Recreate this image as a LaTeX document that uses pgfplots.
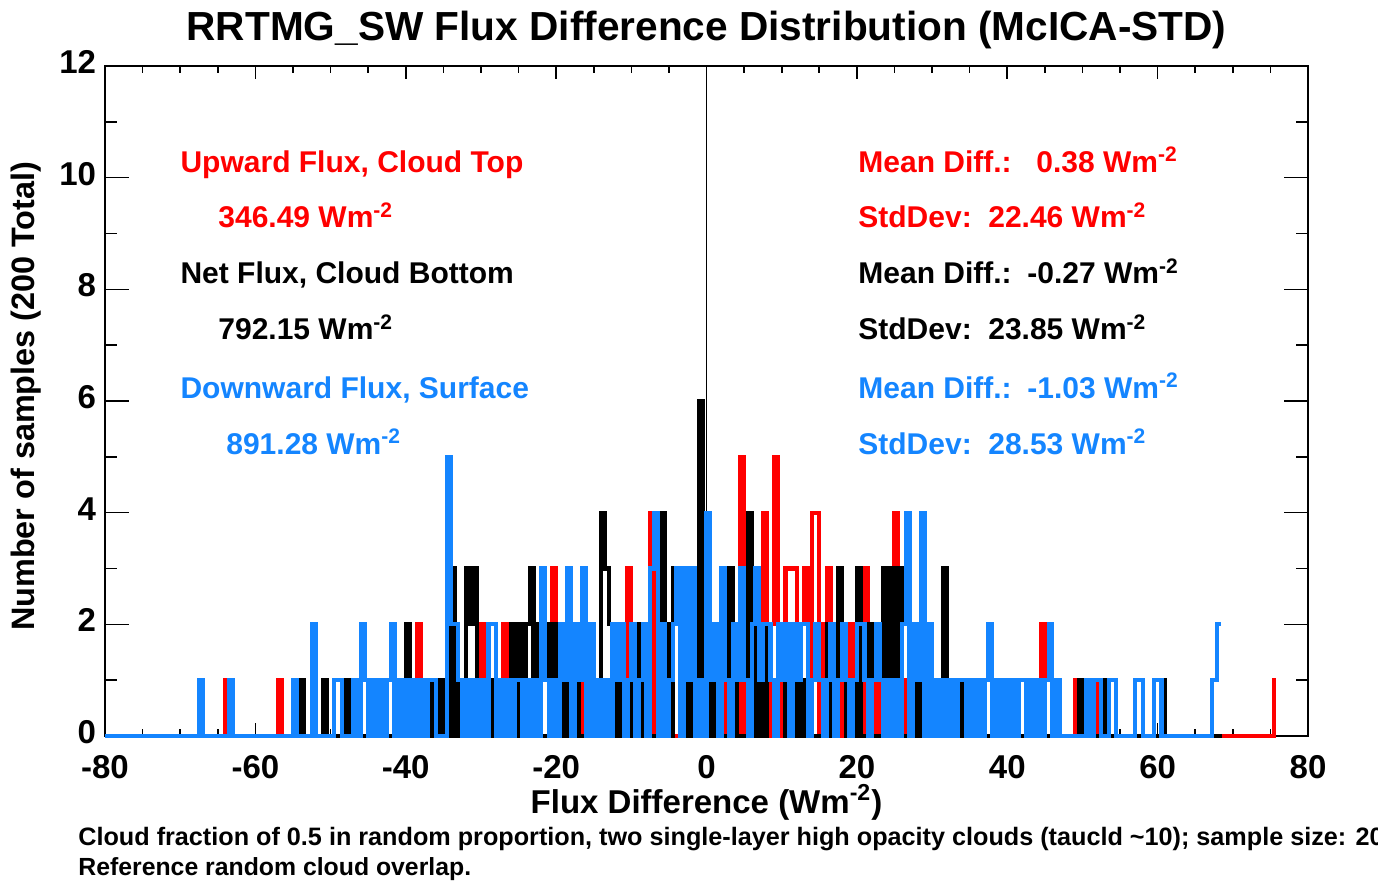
\documentclass[border=0pt]{standalone}
\usepackage{pgfplots}
\pgfplotsset{compat=1.18}
\usepackage{fontspec}
\setmainfont{Liberation Sans}
\definecolor{idlblue}{RGB}{20,133,255}
\definecolor{idlred}{RGB}{255,0,0}
\begin{document}
\begin{tikzpicture}
\path[use as bounding box] (0,0) rectangle (689bp,440.5bp);
\begin{axis}[
  at={(52.5bp,72.5bp)}, anchor=south west,
  scale only axis, width=601.5bp, height=335bp,
  xmin=-80, xmax=80, ymin=0, ymax=12,
  xtick={-80,-60,...,80}, ytick={0,2,...,12},
  minor x tick num=3, minor y tick num=1,
  tick align=inside,
  clip=false,
  axis line style={line width=1bp},
  every tick/.style={black, line width=0.8bp},
  xtick style={/pgfplots/major tick length=6.7bp,/pgfplots/minor tick length=3.4bp},
  ytick style={/pgfplots/major tick length=12bp,/pgfplots/minor tick length=6bp},
  tick label style={font=\fontsize{16.5bp}{18bp}\selectfont\bfseries},
  /pgf/number format/assume math mode=true,
  xticklabel style={yshift=-6bp},
  yticklabel style={xshift=-1bp, yshift=2bp},
  title={RRTMG\_SW Flux Difference Distribution (McICA-STD)},
  title style={font=\fontsize{20.3bp}{22bp}\selectfont\bfseries, at={(axis description cs:0.5,1.0209)}, anchor=base},
  xlabel={Flux Difference (Wm\textsuperscript{-2})},
  xlabel style={font=\fontsize{16.5bp}{18bp}\selectfont\bfseries, at={(axis description cs:0.5,-0.115)}, anchor=base},
  ylabel={Number of samples (200 Total)},
  ylabel style={font=\fontsize{16.2bp}{18bp}\selectfont\bfseries, at={(axis description cs:-0.0582,0.507)}, anchor=base, rotate=0},
]
\draw[black, line width=0.5bp] (axis cs:0,0) -- (axis cs:0,12);
% red
\addplot[idlred, line width=2.1bp, const plot mark left, no marks] coordinates {
(-80,0) (-64,1) (-63.5,0) (-57,1) (-56.5,0) (-45,1) (-44.5,0) (-38.5,2) (-38,0) (-36,1) (-35.5,0) (-33.5,1) (-33,0) (-31,1) (-30.5,0) (-30,2) (-29.5,1) (-29,0) (-28,1) (-27.5,0) (-27,2) (-26.5,0) (-26,1) (-25.5,0) (-24.5,1) (-24,0) (-22.5,1) (-22,0) (-21,2) (-20.5,3) (-20,0) (-19.5,1) (-19,0) (-18,2) (-17.5,0) (-17,1) (-16.5,0) (-15,1) (-14.5,0) (-13,1) (-12.5,0) (-12,2) (-11.5,0) (-11,1) (-10.5,3) (-10,0) (-9.5,1) (-9,2) (-8.5,0) (-8,1) (-7.5,4) (-7,0) (-6,3) (-5.5,0) (-5,2) (-4.5,0) (-3.5,1) (-3,0) (-2.5,2) (-2,0) (-1.5,3) (-1,0) (-0.5,1) (0,0) (0.5,2) (1,0) (1.5,1) (2,0) (2.5,2) (3,0) (3.5,1) (4,0) (4.5,5) (5,0) (5.5,2) (6,1) (6.5,0) (7,1) (7.5,4) (8,0) (8.5,2) (9,5) (9.5,0) (10,1) (10.5,3) (12,1) (12.5,2) (13,3) (13.5,0) (14,4) (15,0) (15.5,2) (16,3) (16.5,0) (17,2) (17.5,0) (18,1) (18.5,2) (19,0) (19.5,2) (20,1) (20.5,0) (21,3) (21.5,2) (22,0) (22.5,2) (23,0) (23.5,1) (24,0) (24.5,2) (25,4) (25.5,0) (26,1) (26.5,0) (28,2) (28.5,0) (29.5,1) (30,0) (31,1) (31.5,0) (33.5,1) (34,0) (36,1) (36.5,0) (39,1) (39.5,0) (41,1) (41.5,0) (44.5,2) (45,0) (46,1) (46.5,0) (49,1) (49.5,0) (52,1) (52.5,0) (75.5,1) (75.75,1)
};
% black
\addplot[black, line width=2.1bp, const plot mark left, no marks] coordinates {
(-80,0) (-54,1) (-53.5,0) (-51,1) (-50.5,0) (-48,1) (-47.5,0) (-41,1) (-40.5,0) (-40,2) (-39.5,0) (-37,1) (-36.5,0) (-35.5,1) (-35,0) (-34,3) (-33.5,0) (-33,1) (-32.5,0) (-32,3) (-31.5,2) (-31,3) (-30.5,0) (-30,1) (-29.5,0) (-28.5,1) (-28,0) (-26,2) (-25.5,0) (-25,2) (-24.5,1) (-24,2) (-23.5,3) (-23,1) (-22.5,2) (-22,0) (-21,2) (-20.5,0) (-20,2) (-19.5,0) (-19,1) (-18.5,0) (-17.5,1) (-17,0) (-15.5,1) (-15,0) (-14,4) (-13.5,3) (-13,2) (-12.5,0) (-12,1) (-11.5,0) (-11,1) (-10.5,0) (-10,2) (-9.5,0) (-9,2) (-8.5,0) (-8,1) (-7.5,0) (-6,4) (-5.5,2) (-5,0) (-4.5,3) (-4,2) (-3.5,0) (-3,2) (-2.5,0) (-2,1) (-1.5,0) (-1,6) (-0.5,0) (0.5,2) (1,0) (1.5,2) (2,0) (3,3) (3.5,2) (4,0) (5.5,4) (6,2) (6.5,0) (7,2) (7.5,0) (8,2) (8.5,1) (9,0) (9.5,2) (10.5,0) (11,1) (11.5,0) (12,2) (12.5,0) (13,1) (13.5,0) (16,2) (16.5,0) (17.5,3) (18,2) (18.5,0) (19,1) (19.5,0) (20,3) (20.5,0) (21.5,2) (22,0) (23.5,3) (24,1) (24.5,3) (25,1) (25.5,3) (26,0) (27,1) (27.5,0) (28,2) (28.5,0) (29,1) (29.5,0) (31.5,3) (32,0) (34,1) (34.5,0) (38.5,1) (39,0) (42.5,1) (43,0) (46,1) (46.5,0) (49.5,1) (50,0) (53,1) (53.5,0) (60.5,1) (61,0) (68.5,0)
};
% blue
\addplot[idlblue, line width=2.1bp, const plot mark left, no marks] coordinates {
(-80,0) (-67.5,1) (-67,0) (-63.5,1) (-63,0) (-55,1) (-54.5,0) (-52.5,2) (-52,0) (-49.5,1) (-48.5,0) (-47,1) (-46.5,0) (-46,2) (-45.5,1) (-45,0) (-44.5,1) (-44,0) (-43.5,1) (-43,0) (-42.5,1) (-42,2) (-41.5,0) (-41,1) (-40.5,0) (-40,1) (-39.5,0) (-39,1) (-38.5,0) (-38,1) (-37.5,0) (-37,1) (-36,0) (-34.5,5) (-34,2) (-33,1) (-32.5,0) (-32,1) (-31.5,0) (-31,1) (-30.5,0) (-30,1) (-29.5,0) (-29,2) (-28,0) (-27.5,1) (-27,0) (-26.5,1) (-26,0) (-25.5,1) (-24.5,0) (-24,1) (-23.5,0) (-23,1) (-22.5,0) (-22,3) (-21.5,1) (-21,0) (-20.5,1) (-20,0) (-19.5,2) (-19,1) (-18.5,3) (-18,0) (-17.5,2) (-17,1) (-16.5,3) (-16,0) (-15.5,2) (-15,0) (-14.5,1) (-14,0) (-13.5,1) (-13,0) (-12.5,2) (-12,1) (-11.5,2) (-11,0) (-10.5,1) (-10,2) (-9.5,0) (-9,1) (-8.5,2) (-8,0) (-7.5,3) (-7,4) (-6.5,0) (-6,2) (-5.5,0) (-5,1) (-4.5,2) (-4,3) (-3.5,0) (-3,3) (-2.5,1) (-2,3) (-1.5,0) (-1,1) (-0.5,0) (0,4) (0.5,1) (1,2) (1.5,0) (2,3) (2.5,1) (3,0) (3.5,2) (4,1) (4.5,3) (5,1) (5.5,0) (6,2) (6.5,3) (7,1) (7.5,2) (8.5,1) (9,0) (9.5,2) (10,1) (10.5,2) (11,0) (11.5,2) (12,1) (12.5,2) (13.5,0) (14,1) (14.5,2) (15,1) (15.5,0) (16,1) (16.5,2) (17,0) (17.5,1) (18,2) (18.5,1) (19,0) (19.5,1) (20,2) (21,1) (21.5,0) (22,1) (22.5,2) (23,1) (23.5,0) (24,1) (24.5,0) (25,1) (25.5,0) (26,2) (26.5,4) (27,0) (27.5,2) (28,1) (28.5,4) (29,0) (29.5,2) (30,0) (30.5,1) (31,0) (31.5,1) (32,0) (32.5,1) (33,0) (33.5,1) (34.5,0) (35,1) (35.5,0) (36,1) (36.5,0) (37,1) (37.5,2) (38,0) (38.5,1) (39,0) (39.5,1) (40,0) (40.5,1) (41,0) (41.5,1) (42.5,0) (43,1) (43.5,0) (44,1) (44.5,0) (45,1) (45.5,2) (46,0) (46.5,1) (47,0) (50.5,1) (51,0) (51.5,1) (52.5,0) (53.5,1) (54.5,0) (57,1) (58,0) (59.5,1) (60.5,0) (67.2,1) (67.9,2) (68.4,2)
};
% annotations
\begin{scope}[every node/.style={anchor=base west, inner sep=0pt, font=\fontsize{15bp}{17bp}\selectfont\bfseries}]
\node[text=idlred] at (axis cs:-70,10.1) {Upward Flux, Cloud Top};
\node[text=idlred] at (axis cs:-64.97,9.1) {346.49 Wm\textsuperscript{-2}};
\node[text=black] at (axis cs:-70,8.1) {Net Flux, Cloud Bottom};
\node[text=black] at (axis cs:-64.97,7.1) {792.15 Wm\textsuperscript{-2}};
\node[text=idlblue] at (axis cs:-70,6.05) {Downward Flux, Surface};
\node[text=idlblue] at (axis cs:-63.91,5.05) {891.28 Wm\textsuperscript{-2}};
\node[text=idlred] at (axis cs:20.15,10.1) {Mean Diff.:};
\node[text=idlred] at (axis cs:43.82,10.1) {0.38 Wm\textsuperscript{-2}};
\node[text=idlred] at (axis cs:20.15,9.1) {StdDev:};
\node[text=idlred] at (axis cs:37.43,9.1) {22.46 Wm\textsuperscript{-2}};
\node[text=black] at (axis cs:20.15,8.1) {Mean Diff.:};
\node[text=black] at (axis cs:42.62,8.1) {-0.27 Wm\textsuperscript{-2}};
\node[text=black] at (axis cs:20.15,7.1) {StdDev:};
\node[text=black] at (axis cs:37.43,7.1) {23.85 Wm\textsuperscript{-2}};
\node[text=idlblue] at (axis cs:20.15,6.05) {Mean Diff.:};
\node[text=idlblue] at (axis cs:42.62,6.05) {-1.03 Wm\textsuperscript{-2}};
\node[text=idlblue] at (axis cs:20.15,5.05) {StdDev:};
\node[text=idlblue] at (axis cs:37.43,5.05) {28.53 Wm\textsuperscript{-2}};
\end{scope}
\end{axis}
\node[anchor=base west, inner sep=0pt, font=\fontsize{12.6bp}{14bp}\selectfont\bfseries] at (39bp,18bp) {Cloud fraction of 0.5 in random proportion, two single-layer high opacity clouds (taucld \textasciitilde10); sample size: 200};
\node[anchor=base west, inner sep=0pt, font=\fontsize{12.4bp}{14bp}\selectfont\bfseries] at (39bp,3bp) {Reference random cloud overlap.};
\end{tikzpicture}
\end{document}
